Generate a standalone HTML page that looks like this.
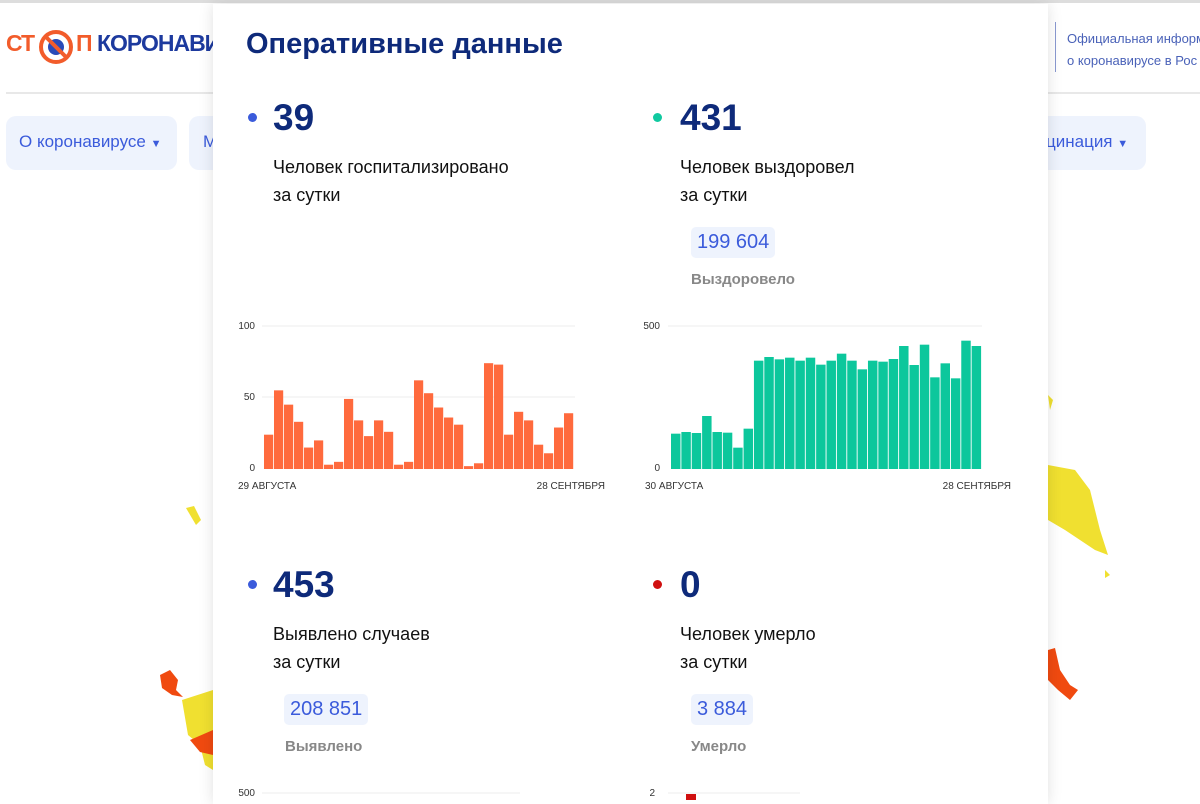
<!DOCTYPE html>
<html><head><meta charset="utf-8"><style>
body{margin:0;width:1200px;height:800px;overflow:hidden;background:#fff;font-family:"Liberation Sans",sans-serif;position:relative}
.a{position:absolute;white-space:nowrap}
.btn{position:absolute;background:#eef3fd;border-radius:10px;color:#3b5bdb;font-size:17px}
.big{position:absolute;font-size:37px;font-weight:bold;color:#0e2a7a}
.dot{position:absolute;width:9px;height:9px;border-radius:50%}
.lbl{position:absolute;font-size:18px;line-height:28px;color:#111}
.pill{position:absolute;background:#eef3fd;border-radius:5px;color:#3b5bdb;font-size:20px;padding:4px 6px}
.sub{position:absolute;font-size:15px;font-weight:bold;color:#888}
</style></head><body>
<div style="position:absolute;left:0;top:0;width:1200px;height:3px;background:#ddd"></div>
<div class="a" style="left:6px;top:30px;font-size:23px;font-weight:900;color:#f25c2b;letter-spacing:-1px">СТ</div>
<svg class="a" style="left:38px;top:28px" width="36" height="38"><circle cx="18" cy="19" r="15" fill="none" stroke="#f25c2b" stroke-width="4"/><circle cx="18" cy="19" r="8" fill="#2a4bb8"/><line x1="7" y1="8" x2="29" y2="30" stroke="#f25c2b" stroke-width="4"/></svg>
<div class="a" style="left:76px;top:30px;font-size:23px;font-weight:900;color:#f25c2b">П</div>
<div class="a" style="left:97px;top:30px;font-size:23px;font-weight:900;color:#1d3a9e;letter-spacing:-1px">КОРОНАВИ</div>
<div style="position:absolute;left:6px;top:92px;width:1194px;height:2px;background:#e8e8e8"></div>
<div class="btn" style="left:6px;top:116px;width:171px;height:54px;line-height:52px;padding-left:13px;box-sizing:border-box">О коронавирусе <span style="font-size:11px">▼</span></div>
<div class="btn" style="left:189px;top:116px;width:40px;height:54px;line-height:52px;padding-left:14px;box-sizing:border-box">М</div>
<div class="btn" style="left:1000px;top:116px;width:146px;height:54px;line-height:52px;padding-left:46px;box-sizing:border-box">цинация <span style="font-size:11px">▼</span></div>
<div style="position:absolute;left:1055px;top:22px;width:1px;height:50px;background:#8a9ad0"></div>
<div class="a" style="left:1067px;top:28px;font-size:13px;line-height:22px;color:#4a62b8">Официальная информ<br>о коронавирусе в Рос</div>
<svg class="a" style="left:0;top:0" width="1200" height="800">
<path d="M186 508 L194 506 L201 520 L196 525 Z" fill="#f0e030"/>
<path d="M160 675 L170 670 L178 680 L176 690 L183 697 L172 695 L162 688 Z" fill="#f04a10"/>
<path d="M182 700 L213 690 L213 770 L205 765 L200 745 L188 735 Z" fill="#f0e030"/>
<path d="M190 740 L213 730 L213 755 L200 752 Z" fill="#f04a10"/>
<path d="M1048 395 L1053 400 L1050 410 Z" fill="#f0e030"/>
<path d="M1048 465 L1075 470 L1090 490 L1100 530 L1108 555 L1095 550 L1080 540 L1065 530 L1048 520 Z" fill="#f0e030"/>
<path d="M1048 650 L1055 648 L1060 670 L1070 685 L1078 690 L1070 700 L1058 690 L1048 680 Z" fill="#f04a10"/>
<path d="M1105 570 L1110 575 L1105 578 Z" fill="#f0e030"/>
</svg>
<div style="position:absolute;left:213px;top:4px;width:835px;height:800px;background:#fff;box-shadow:0 0 14px rgba(0,0,0,0.12)"></div>
<div class="a" style="left:246px;top:28px;font-size:29px;font-weight:bold;color:#0e2a7a">Оперативные данные</div>

<div class="dot" style="left:248px;top:113px;background:#3b5bdb"></div>
<div class="big" style="left:273px;top:97px">39</div>
<div class="lbl" style="left:273px;top:153px">Человек госпитализировано<br>за сутки</div>

<div class="dot" style="left:653px;top:113px;background:#10c9a0"></div>
<div class="big" style="left:680px;top:97px">431</div>
<div class="lbl" style="left:680px;top:153px">Человек выздоровел<br>за сутки</div>
<div class="pill" style="left:691px;top:227px">199 604</div>
<div class="sub" style="left:691px;top:271px">Выздоровело</div>

<div class="dot" style="left:248px;top:580px;background:#3b5bdb"></div>
<div class="big" style="left:273px;top:564px">453</div>
<div class="lbl" style="left:273px;top:620px">Выявлено случаев<br>за сутки</div>
<div class="pill" style="left:284px;top:694px">208 851</div>
<div class="sub" style="left:285px;top:738px">Выявлено</div>

<div class="dot" style="left:653px;top:580px;background:#d01010"></div>
<div class="big" style="left:680px;top:564px">0</div>
<div class="lbl" style="left:680px;top:620px">Человек умерло<br>за сутки</div>
<div class="pill" style="left:691px;top:694px">3 884</div>
<div class="sub" style="left:691px;top:738px">Умерло</div>

<svg id="s" class="a" style="left:0;top:0" width="1200" height="800" font-family="Liberation Sans" font-size="10" fill="#333">
<line x1="262" y1="326" x2="575" y2="326" stroke="#eee"/>
<line x1="262" y1="397" x2="575" y2="397" stroke="#eee"/>
<text x="255" y="329" text-anchor="end">100</text>
<text x="255" y="400" text-anchor="end">50</text>
<text x="255" y="471" text-anchor="end">0</text>
<text x="238" y="489">29 АВГУСТА</text>
<text x="605" y="489" text-anchor="end">28 СЕНТЯБРЯ</text>
<line x1="668" y1="326" x2="982" y2="326" stroke="#eee"/>
<text x="660" y="329" text-anchor="end">500</text>
<text x="660" y="471" text-anchor="end">0</text>
<text x="645" y="489">30 АВГУСТА</text>
<text x="1011" y="489" text-anchor="end">28 СЕНТЯБРЯ</text>
<line x1="262" y1="793" x2="520" y2="793" stroke="#eee"/>
<text x="255" y="796" text-anchor="end">500</text>
<line x1="668" y1="793" x2="800" y2="793" stroke="#eee"/>
<text x="655" y="796" text-anchor="end">2</text>
<rect x="686" y="794" width="10" height="6" fill="#d01010"/>
</svg>
<script>
var s=document.getElementById('s'),ns='http://www.w3.org/2000/svg';
var a=[24,55,45,33,15,20,3,5,49,34,23,34,26,3,5,62,53,43,36,31,2,4,74,73,24,40,34,17,11,29,39];
a.forEach(function(v,i){var r=document.createElementNS(ns,'rect');var h=v*1.43;r.setAttribute('x',264+i*10);r.setAttribute('y',469-h);r.setAttribute('width',9.2);r.setAttribute('height',h);r.setAttribute('fill','#ff6a3d');s.appendChild(r);});
var b=[371,366,369,318,366,368,413,356,152,141,148,143,152,143,164,152,131,152,178,152,155,147,108,165,104,202,160,205,92,108];
var w=311/30;
b.forEach(function(v,i){var r=document.createElementNS(ns,'rect');var y=310+v/3;r.setAttribute('x',671+i*w);r.setAttribute('y',y);r.setAttribute('width',w-0.9);r.setAttribute('height',469-y);r.setAttribute('fill','#0cc79c');s.appendChild(r);});
</script>
</body></html>
